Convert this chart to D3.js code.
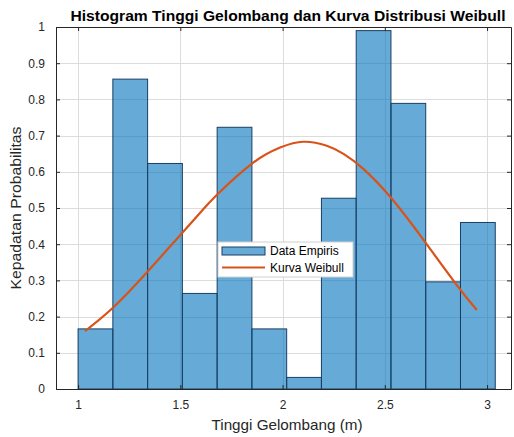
<!DOCTYPE html>
<html>
<head>
<meta charset="utf-8">
<script src="https://cdn.jsdelivr.net/npm/d3@7"></script>
<style>
  html, body { margin: 0; padding: 0; background: #fff; }
  svg { display: block; font-family: "Liberation Sans", Arial, Helvetica, sans-serif; }
</style>
</head>
<body>
<svg id="chart" width="514" height="437"></svg>
<script>
// Histogram bin edges (wave height, m) and empirical probability density per bin
const binEdges = [1.00, 1.17, 1.34, 1.51, 1.68, 1.85, 2.02, 2.19, 2.36, 2.53, 2.70, 2.87, 3.04];
const densities = [0.166, 0.856, 0.623, 0.264, 0.723, 0.166, 0.032, 0.527, 0.990, 0.789, 0.296, 0.460];

// Fitted Weibull density curve, sampled along the wave height range
const curveX = [1.034, 1.173, 1.336, 1.499, 1.597, 1.678, 1.849, 1.988, 2.102, 2.216, 2.300, 2.395, 2.526, 2.672, 2.852, 2.950];
const curveY = [0.160, 0.226, 0.322, 0.425, 0.487, 0.536, 0.622, 0.667, 0.683, 0.672, 0.649, 0.608, 0.531, 0.425, 0.287, 0.218];

// Tick values and labels
const xTicks = [1, 1.5, 2, 2.5, 3];
const xTickLabels = ["1", "1.5", "2", "2.5", "3"];
const yTicks = [0, 0.1, 0.2, 0.3, 0.4, 0.5, 0.6, 0.7, 0.8, 0.9, 1];
const yTickLabels = ["0", "0.1", "0.2", "0.3", "0.4", "0.5", "0.6", "0.7", "0.8", "0.9", "1"];

const titleText = "Histogram Tinggi Gelombang dan Kurva Distribusi Weibull";
const xLabelText = "Tinggi Gelombang (m)";
const yLabelText = "Kepadatan Probabilitas";
const legendLabels = ["Data Empiris", "Kurva Weibull"];

const svg = d3.select("#chart");
const plot = { left: 56, right: 511, top: 27, bottom: 389 };
const axisColor = "#262626";

const x = d3.scaleLinear().domain([0.892, 3.117]).range([plot.left, plot.right]);
const y = d3.scaleLinear().domain([0, 1]).range([plot.bottom, plot.top]);

// Grid lines
const grid = svg.append("g").attr("stroke", "#dcdcdc").attr("stroke-width", 1);
grid.selectAll("line.gx").data(xTicks).join("line")
  .attr("x1", d => Math.round(x(d)) + 0.5).attr("x2", d => Math.round(x(d)) + 0.5)
  .attr("y1", plot.top).attr("y2", plot.bottom);
grid.selectAll("line.gy").data(yTicks).join("line")
  .attr("y1", d => Math.round(y(d)) + 0.5).attr("y2", d => Math.round(y(d)) + 0.5)
  .attr("x1", plot.left).attr("x2", plot.right);

// Histogram bars
const bins = densities.map((v, i) => ({ x0: binEdges[i], x1: binEdges[i + 1], v }));
svg.append("g").selectAll("rect").data(bins).join("rect")
  .attr("x", d => x(d.x0))
  .attr("y", d => y(d.v))
  .attr("width", d => x(d.x1) - x(d.x0))
  .attr("height", d => y(0) - y(d.v))
  .attr("fill", "#0072BD")
  .attr("fill-opacity", 0.6)
  .attr("stroke", "#1b3f63")
  .attr("stroke-width", 1);

// Weibull curve
const curvePts = curveX.map((v, i) => [v, curveY[i]]);
svg.append("path")
  .datum(curvePts)
  .attr("fill", "none")
  .attr("stroke", "#D95319")
  .attr("stroke-width", 2.2)
  .attr("stroke-linejoin", "round")
  .attr("d", d3.line().x(d => x(d[0])).y(d => y(d[1])).curve(d3.curveNatural));

// Axes with inward ticks on all four sides
const tickLen = 4;
const xAxisB = d3.axisBottom(x).tickValues(xTicks).tickFormat((d, i) => xTickLabels[i]).tickSizeInner(-tickLen).tickSizeOuter(0).tickPadding(11);
const xAxisT = d3.axisTop(x).tickValues(xTicks).tickFormat("").tickSizeInner(-tickLen).tickSizeOuter(0);
const yAxisL = d3.axisLeft(y).tickValues(yTicks).tickFormat((d, i) => yTickLabels[i]).tickSizeInner(-tickLen).tickSizeOuter(0).tickPadding(11);
const yAxisR = d3.axisRight(y).tickValues(yTicks).tickFormat("").tickSizeInner(-tickLen).tickSizeOuter(0);

function styleAxis(g) {
  g.selectAll(".domain").attr("stroke", axisColor);
  g.selectAll(".tick line").attr("stroke", axisColor);
  g.selectAll(".tick text").attr("fill", axisColor).style("font-size", "12px").style("font-family", "'Liberation Sans', Arial, sans-serif");
}
svg.append("g").attr("transform", `translate(0,${plot.bottom})`).call(xAxisB).call(styleAxis);
svg.append("g").attr("transform", `translate(0,${plot.top})`).call(xAxisT).call(styleAxis);
svg.append("g").attr("transform", `translate(${plot.left},0)`).call(yAxisL).call(styleAxis);
svg.append("g").attr("transform", `translate(${plot.right},0)`).call(yAxisR).call(styleAxis);

// Title and axis labels
svg.append("text")
  .attr("x", 288).attr("y", 21)
  .attr("text-anchor", "middle")
  .attr("font-weight", "bold").attr("font-size", 15.5)
  .attr("textLength", 435).attr("lengthAdjust", "spacingAndGlyphs")
  .attr("fill", "#000")
  .text(titleText);

svg.append("text")
  .attr("x", 287).attr("y", 430)
  .attr("text-anchor", "middle")
  .attr("font-size", 14.5).attr("fill", axisColor)
  .attr("textLength", 151).attr("lengthAdjust", "spacingAndGlyphs")
  .text(xLabelText);

svg.append("text")
  .attr("transform", `translate(21,${(plot.top + plot.bottom) / 2}) rotate(-90)`)
  .attr("text-anchor", "middle")
  .attr("font-size", 14).attr("fill", axisColor)
  .attr("textLength", 163).attr("lengthAdjust", "spacingAndGlyphs")
  .text(yLabelText);

// Legend
const lg = svg.append("g").attr("transform", "translate(218,242)");
lg.append("rect").attr("width", 135).attr("height", 35)
  .attr("fill", "#fff").attr("stroke", "#d0d0d0").attr("stroke-width", 1);
lg.append("rect").attr("x", 4).attr("y", 5).attr("width", 43).attr("height", 8)
  .attr("fill", "#0072BD").attr("fill-opacity", 0.6)
  .attr("stroke", "#1b3f63").attr("stroke-width", 1);
lg.append("line").attr("x1", 4).attr("x2", 47).attr("y1", 25.5).attr("y2", 25.5)
  .attr("stroke", "#D95319").attr("stroke-width", 2.2);
lg.selectAll("text.lab").data(legendLabels).join("text")
  .attr("x", 52).attr("y", (d, i) => 9 + i * 16.5)
  .attr("dy", "0.35em")
  .attr("font-size", 12).attr("fill", "#000")
  .text(d => d);
</script>
</body>
</html>
